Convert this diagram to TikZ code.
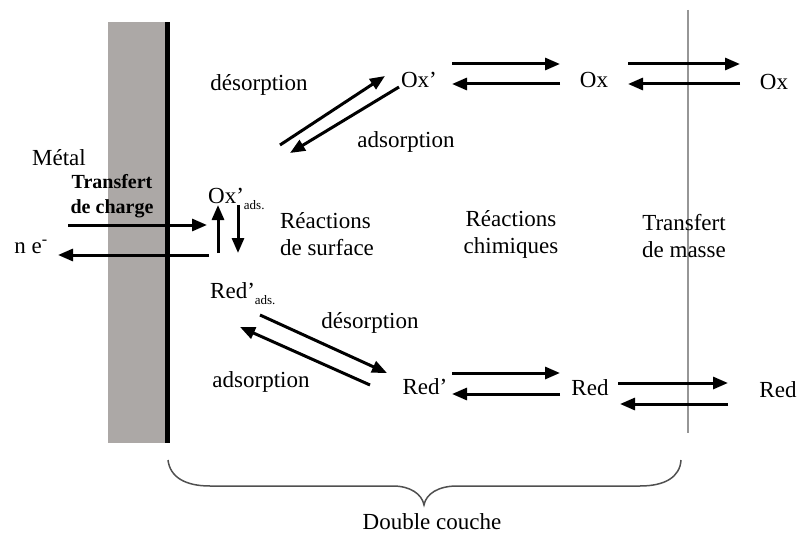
\documentclass[tikz,border=0pt]{standalone}
\usepackage{fontspec}
\setmainfont{Liberation Serif}
\usetikzlibrary{arrows.meta}

\definecolor{metalgray}{RGB}{172,168,166}
\definecolor{limitgray}{RGB}{150,150,150}
\definecolor{bracegray}{RGB}{80,80,80}

\begin{document}
\begin{tikzpicture}[x=1pt,y=-1pt,>={Triangle[length=15pt,width=12pt]},
  main node/.style={inner sep=0pt,font=\fontsize{23}{27}\selectfont},
  bold node/.style={inner sep=0pt,align=center,font=\fontsize{20}{25}\selectfont\bfseries},
  flow/.style={->,line width=3pt}]
  \useasboundingbox (0,0) rectangle (798,535);

  % electrode and limit of the diffusion layer
  \fill[metalgray] (108,22) rectangle (165,443);
  \fill[black] (165,22) rectangle (170,443);
  \draw[limitgray,line width=1.5pt] (688,10) -- (688,433);

  \node[main node] (metal) at (59,158) {Métal};
  \node[bold node] (charge) at (112,196) {Transfert\\de charge};
  \node[main node] (ne) at (31,247) {n e\textsuperscript{-}};
  \node[main node,anchor=base west] (oxads) at (208,203) {Ox’\raisebox{-6pt}{\fontsize{13}{13}\selectfont ads.}};
  \node[main node,anchor=base west] (redads) at (210,298) {Red’\raisebox{-6pt}{\fontsize{13}{13}\selectfont ads.}};
  \node[main node,align=left] (surface) at (327,234) {Réactions\\de surface};
  \node[main node,align=center] (chimie) at (511,234) {Réactions\\chimiques};
  \node[main node,align=center] (masse) at (684,236) {Transfert\\de masse};

  \node[main node] (desorb1) at (259,85) {désorption};
  \node[main node] (oxp) at (419,80) {Ox’};
  \node[main node] (adsorb1) at (406,142) {adsorption};
  \node[main node] (ox1) at (594,80) {Ox};
  \node[main node] (ox2) at (774,82) {Ox};

  \node[main node] (desorb2) at (370,323) {désorption};
  \node[main node] (adsorb2) at (261,382) {adsorption};
  \node[main node] (redp) at (425,387) {Red’};
  \node[main node] (red1) at (590,388) {Red};
  \node[main node] (red2) at (778,390) {Red};

  \node[main node] (couche) at (432,522) {Double couche};

  % arrow ends
  \coordinate (ct1) at (68,225);  \coordinate (ct2) at (207,225);
  \coordinate (ct3) at (209,255); \coordinate (ct4) at (58,255);
  \coordinate (sr1) at (218,253); \coordinate (sr2) at (218,205);
  \coordinate (sr3) at (238,205); \coordinate (sr4) at (238,253);
  \coordinate (ta1) at (280,145); \coordinate (ta2) at (385,76);
  \coordinate (ta3) at (399,87);  \coordinate (ta4) at (290,153);
  \coordinate (tb1) at (452,64);  \coordinate (tb2) at (560,64);
  \coordinate (tb3) at (560,84);  \coordinate (tb4) at (452,84);
  \coordinate (tc1) at (628,64);  \coordinate (tc2) at (740,64);
  \coordinate (tc3) at (740,84);  \coordinate (tc4) at (628,84);
  \coordinate (ba1) at (260,315); \coordinate (ba2) at (387,373);
  \coordinate (ba3) at (370,385); \coordinate (ba4) at (240,327);
  \coordinate (bb1) at (452,373); \coordinate (bb2) at (560,373);
  \coordinate (bb3) at (560,394); \coordinate (bb4) at (452,394);
  \coordinate (bc1) at (618,383); \coordinate (bc2) at (728,383);
  \coordinate (bc3) at (728,404); \coordinate (bc4) at (620,404);

  \path[flow]
    (ct1) edge (ct2)
    (ct3) edge (ct4)
    (sr1) edge (sr2)
    (sr3) edge (sr4)
    (ta1) edge (ta2)
    (ta3) edge (ta4)
    (tb1) edge (tb2)
    (tb3) edge (tb4)
    (tc1) edge (tc2)
    (tc3) edge (tc4)
    (ba1) edge (ba2)
    (ba3) edge (ba4)
    (bb1) edge (bb2)
    (bb3) edge (bb4)
    (bc1) edge (bc2)
    (bc3) edge (bc4);

  % brace of the double layer
  \draw[bracegray,line width=1.5pt] (168,460) .. controls (170,477) and (185,486) .. (210,486)
    -- (393,486) .. controls (410,486) and (422,494) .. (424,505)
    .. controls (426,494) and (438,486) .. (457,486) -- (640,486)
    .. controls (665,486) and (680,477) .. (681,460);
\end{tikzpicture}
\end{document}
